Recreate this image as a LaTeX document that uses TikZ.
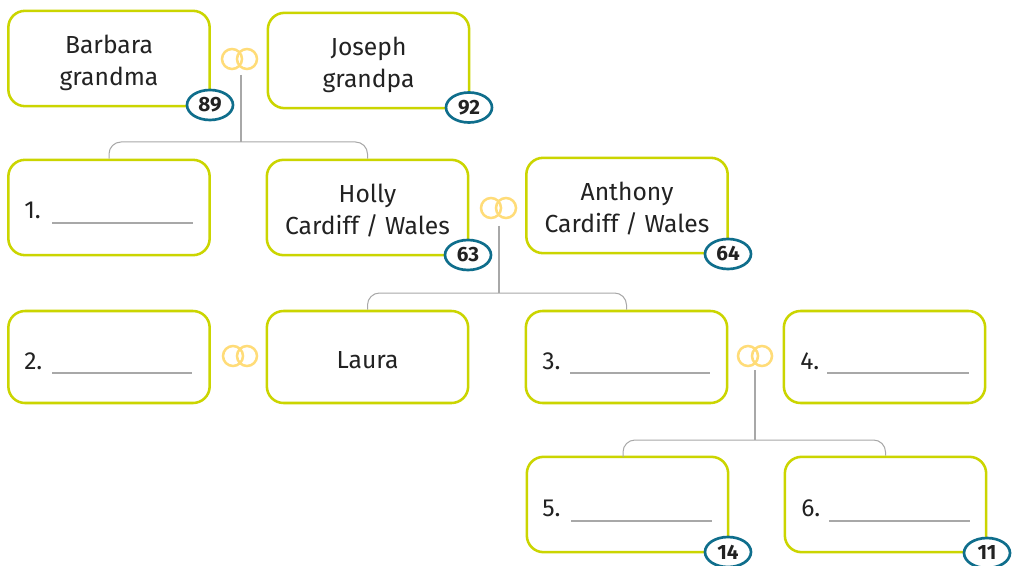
\documentclass[tikz,border=0pt]{standalone}
\usepackage{fontspec}
\setmainfont{Fira Sans}
\usetikzlibrary{shapes.geometric}
\definecolor{boxgreen}{HTML}{CBD500}
\definecolor{badgeblue}{HTML}{0F6E8C}
\definecolor{ringyellow}{HTML}{FFDC78}
\definecolor{linegray}{HTML}{A8A8A8}
\definecolor{inkdark}{HTML}{222222}
\newcommand{\topstrut}{\rule{0pt}{20.5pt}}
\newcommand{\botstrut}{\rule[-4pt]{0pt}{0pt}}
\tikzset{
  x=0.75pt,y=-0.75pt,
  person/.style={draw=boxgreen,line width=1.9pt,rounded corners=12.5pt,fill=white,inner sep=0pt,
    minimum width=151pt,minimum height=71.5pt,align=center,text=inkdark,font=\fontsize{18.5}{24}\selectfont},
  personshort/.style={person,minimum height=69pt},
  badge/.style={draw=badgeblue,line width=2pt,ellipse,fill=white,inner sep=0pt,minimum width=34.5pt,minimum height=22.5pt,
    text=inkdark,font=\fontsize{15.5}{17}\selectfont\bfseries},
  ring/.style={draw=ringyellow,line width=1.9pt,circle,inner sep=0pt,minimum size=15pt},
  branch/.style={draw=linegray,line width=0.75pt,rounded corners=9pt},
  stem/.style={draw=linegray,line width=0.9pt},
  blank/.style={draw=linegray,line width=0.9pt},
  numlabel/.style={anchor=base west,inner sep=0pt,text=inkdark,font=\fontsize{18.5}{24}\selectfont},
}
\begin{document}
\begin{tikzpicture}
\useasboundingbox (0,0) rectangle (1019,566);
\fill[white] (0,0) rectangle (1019,566);
\coordinate (s1top) at (241,75); \coordinate (s1bot) at (241,142);
\coordinate (s2top) at (499,226); \coordinate (s2bot) at (499,293);
\coordinate (s3top) at (755,370); \coordinate (s3bot) at (755,440);
\coordinate (b3left) at (623,457);
% boxes
\node[person] (barbara) at (109,58.5) {\topstrut Barbara\\grandma\botstrut};
\node[person] (joseph) at (368.5,60.5) {\topstrut Joseph\\grandpa\botstrut};
\node[person] (one) at (109,207.5) {};
\node[person] (holly) at (367.5,207.5) {\topstrut Holly\\Cardiff / Wales\botstrut};
\node[person] (anthony) at (627,205.5) {\topstrut Anthony\\Cardiff / Wales\botstrut};
\node[personshort] (two) at (109,357) {};
\node[personshort] (laura) at (367.5,357) {\topstrut Laura\botstrut};
\node[personshort] (three) at (626.5,357) {};
\node[personshort] (four) at (884.5,357) {};
\node[person] (five) at (627.5,504.5) {};
\node[person] (six) at (885.5,504.5) {};
% connectors
\draw[stem] (s1top) -- (s1bot);
\draw[stem] (s2top) -- (s2bot);
\draw[stem] (s3top) -- (s3bot);
\draw[branch] (one.north) |- (s1bot) -| (holly.north);
\draw[branch] (laura.north) |- (s2bot) -| (three.north);
\draw[branch] (b3left) |- (s3bot) -| (six.north);
% rings
\node[ring] (r1a) at (232,59) {}; \node[ring] (r1b) at (247,59) {};
\node[ring] (r2a) at (491,208) {}; \node[ring] (r2b) at (506,208) {};
\node[ring] (r3a) at (233,356) {}; \node[ring] (r3b) at (247,356) {};
\node[ring] (r4a) at (748,356) {}; \node[ring] (r4b) at (762,356) {};
% badges
\node[badge] (b89) at (210,105) {89};
\node[badge] (b92) at (469,107.5) {92};
\node[badge] (b63) at (468,255) {63};
\node[badge] (b64) at (728,254) {64};
\node[badge] (b14) at (728,552) {14};
\node[badge] (b11) at (987,553) {11};
% numbered blanks
\node[numlabel] (n1) at (24,219) {1.};
\coordinate (l1a) at (52,223); \coordinate (l1b) at (193,223); \draw[blank] (l1a) -- (l1b);
\node[numlabel] (n2) at (24,369) {2.};
\coordinate (l2a) at (52,373); \coordinate (l2b) at (192,373); \draw[blank] (l2a) -- (l2b);
\node[numlabel] (n3) at (542,369) {3.};
\coordinate (l3a) at (570,373); \coordinate (l3b) at (710,373); \draw[blank] (l3a) -- (l3b);
\node[numlabel] (n4) at (800,369) {4.};
\coordinate (l4a) at (827,373); \coordinate (l4b) at (969,373); \draw[blank] (l4a) -- (l4b);
\node[numlabel] (n5) at (542,516) {5.};
\coordinate (l5a) at (571,521); \coordinate (l5b) at (712,521); \draw[blank] (l5a) -- (l5b);
\node[numlabel] (n6) at (801,516) {6.};
\coordinate (l6a) at (829,521); \coordinate (l6b) at (970,521); \draw[blank] (l6a) -- (l6b);
\end{tikzpicture}
\end{document}
